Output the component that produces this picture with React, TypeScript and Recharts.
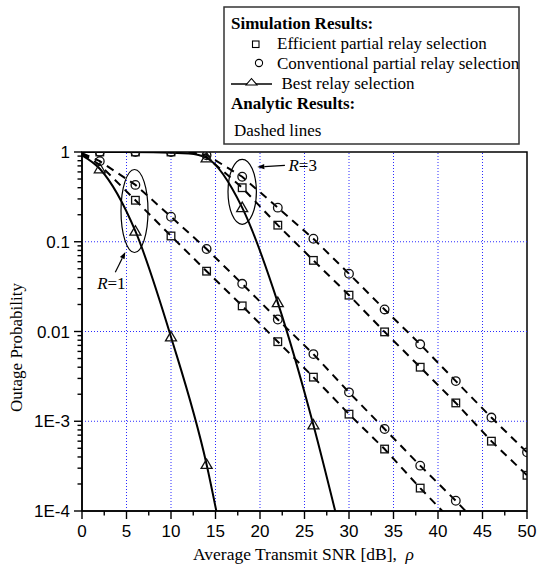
import React from 'react';
import {
  ComposedChart,
  Line,
  XAxis,
  YAxis,
  ReferenceLine,
  ReferenceArea,
  ReferenceDot,
} from 'recharts';

// ---------- axis ticks ----------
const xTicks = [0, 2.5, 5, 7.5, 10, 12.5, 15, 17.5, 20, 22.5, 25, 27.5, 30, 32.5, 35, 37.5, 40, 42.5, 45, 47.5, 50];
const yDecades = [0.0001, 0.001, 0.01, 0.1, 1];
const yDecadeLabels = ['1E-4', '1E-3', '0.01', '0.1', '1'];
const yMinor = [
  0.0002, 0.0003, 0.0004, 0.0005, 0.0006, 0.0007, 0.0008, 0.0009,
  0.002, 0.003, 0.004, 0.005, 0.006, 0.007, 0.008, 0.009,
  0.02, 0.03, 0.04, 0.05, 0.06, 0.07, 0.08, 0.09,
  0.2, 0.3, 0.4, 0.5, 0.6, 0.7, 0.8, 0.9,
];
const xGrid = [5, 10, 15, 20, 25, 30, 35, 40, 45];
const yGrid = [0.1, 0.01, 0.001];

// ---------- simulation results (markers) ----------
// R = 1
const effR1 = [
  { x: 6, y: 0.29 }, { x: 10, y: 0.116 }, { x: 14, y: 0.047 }, { x: 18, y: 0.0193 },
  { x: 22, y: 0.0077 }, { x: 26, y: 0.0031 }, { x: 30, y: 0.0012 }, { x: 34, y: 0.00049 },
  { x: 38, y: 0.00018 },
];
const convR1 = [
  { x: 2, y: 0.79 }, { x: 6, y: 0.43 }, { x: 10, y: 0.19 }, { x: 14, y: 0.083 },
  { x: 18, y: 0.034 }, { x: 22, y: 0.0136 }, { x: 26, y: 0.0056 }, { x: 30, y: 0.0021 },
  { x: 34, y: 0.00082 }, { x: 38, y: 0.00032 }, { x: 42, y: 0.00013 },
];
const bestR1 = [{ x: 2, y: 0.65 }, { x: 6, y: 0.131 }, { x: 10, y: 0.0087 }, { x: 14, y: 0.00033 }];
// R = 3
const effR3 = [
  { x: 2, y: 1 }, { x: 6, y: 1 }, { x: 10, y: 1 }, { x: 18, y: 0.4 }, { x: 22, y: 0.153 },
  { x: 26, y: 0.062 }, { x: 30, y: 0.0254 }, { x: 34, y: 0.0099 }, { x: 38, y: 0.004 },
  { x: 42, y: 0.0016 }, { x: 46, y: 0.0006 }, { x: 50, y: 0.00025 },
];
const convR3 = [
  { x: 2, y: 1 }, { x: 6, y: 1 }, { x: 10, y: 1 }, { x: 14, y: 0.92 }, { x: 18, y: 0.53 },
  { x: 22, y: 0.24 }, { x: 26, y: 0.108 }, { x: 30, y: 0.044 }, { x: 34, y: 0.0176 },
  { x: 38, y: 0.0072 }, { x: 42, y: 0.0028 }, { x: 46, y: 0.0011 }, { x: 50, y: 0.00045 },
];
const bestR3 = [{ x: 14, y: 0.86 }, { x: 18, y: 0.24 }, { x: 22, y: 0.021 }, { x: 26, y: 0.00091 }];

// ---------- solid curves (best relay selection) ----------
const bestR1Curve = [
  { x: 0, y: 0.92 }, { x: 2, y: 0.65 }, { x: 6, y: 0.131 }, { x: 10, y: 0.0087 },
  { x: 14, y: 0.00033 }, { x: 16, y: 0.000035 },
];
const bestR3Curve = [
  { x: 0, y: 1 }, { x: 8, y: 0.995 }, { x: 12, y: 0.96 }, { x: 14, y: 0.86 }, { x: 18, y: 0.24 },
  { x: 22, y: 0.021 }, { x: 26, y: 0.00091 }, { x: 29, y: 0.00006 },
];

// ---------- analytic results (dashed) ----------
const anaEffR1 = [
  { x: 0, y: 0.95 }, { x: 2, y: 0.72 }, { x: 6, y: 0.29 }, { x: 10, y: 0.116 }, { x: 14, y: 0.047 },
  { x: 18, y: 0.0193 }, { x: 22, y: 0.0077 }, { x: 26, y: 0.0031 }, { x: 30, y: 0.0012 },
  { x: 34, y: 0.00049 }, { x: 38, y: 0.00018 }, { x: 42, y: 0.00007 },
];
const anaConvR1 = [
  { x: 0, y: 0.97 }, { x: 2, y: 0.79 }, { x: 6, y: 0.43 }, { x: 10, y: 0.19 }, { x: 14, y: 0.083 },
  { x: 18, y: 0.034 }, { x: 22, y: 0.0136 }, { x: 26, y: 0.0056 }, { x: 30, y: 0.0021 },
  { x: 34, y: 0.00082 }, { x: 38, y: 0.00032 }, { x: 42, y: 0.00013 }, { x: 46, y: 0.00005 },
];
const anaEffR3 = [
  { x: 12, y: 1 }, { x: 14, y: 0.88 }, { x: 18, y: 0.4 }, { x: 22, y: 0.153 }, { x: 26, y: 0.062 },
  { x: 30, y: 0.0254 }, { x: 34, y: 0.0099 }, { x: 38, y: 0.004 }, { x: 42, y: 0.0016 },
  { x: 46, y: 0.0006 }, { x: 50, y: 0.00025 },
];
const anaConvR3 = [
  { x: 12, y: 1 }, { x: 14, y: 0.93 }, { x: 18, y: 0.53 }, { x: 22, y: 0.24 }, { x: 26, y: 0.108 },
  { x: 30, y: 0.044 }, { x: 34, y: 0.0176 }, { x: 38, y: 0.0072 }, { x: 42, y: 0.0028 },
  { x: 46, y: 0.0011 }, { x: 50, y: 0.00045 },
];

// ---------- annotations ----------
const ellipseR1 = { x: 5.9, y: 0.22 };
const ellipseR3 = { x: 18.0, y: 0.36 };
const arrowR1 = [{ x: 3.74, y: 0.0457 }, { x: 4.87, y: 0.077 }];
const arrowR3 = [{ x: 22.8, y: 0.71 }, { x: 19.7, y: 0.68 }];
const labelR1 = { x: 3.3, y: 0.03, text: '1' };
const labelR3 = { x: 23.2, y: 0.62, text: '3' };

const SANS = 'Liberation Sans, Arial, sans-serif';
const SERIF = 'Liberation Serif, Times New Roman, serif';
const INK = '#111';
const CLIP = 'url(#plotClipArea)';

const XTick = (p: any) => {
  const v = p.payload.value;
  const major = Math.abs(v % 5) < 1e-9;
  return (
    <g>
      <line x1={p.x} x2={p.x} y1={p.y} y2={p.y + (major ? 8 : 4.5)} stroke="#000" strokeWidth={1.4} />
      {major && (
        <text x={p.x} y={p.y + 26} textAnchor="middle" fontFamily={SANS} fontSize={17} fill="#000">
          {v}
        </text>
      )}
    </g>
  );
};

const YTick = (p: any) => {
  const v = p.payload.value;
  const lg = Math.log10(v);
  const major = Math.abs(lg - Math.round(lg)) < 1e-6;
  const idx = yDecades.findIndex((d) => Math.abs(Math.log10(d) - lg) < 1e-6);
  return (
    <g>
      <line x1={p.x} x2={p.x - (major ? 8 : 4.5)} y1={p.y} y2={p.y} stroke="#000" strokeWidth={1.4} />
      {major && (
        <text x={p.x - 12} y={p.y + 6} textAnchor="end" fontFamily={SANS} fontSize={17} fill="#000">
          {yDecadeLabels[idx]}
        </text>
      )}
    </g>
  );
};

const SquareDot = (p: any) => (
  <rect clipPath={CLIP} x={p.cx - 3.8} y={p.cy - 3.8} width={7.6} height={7.6} fill="none" stroke={INK} strokeWidth={1.3} />
);
const CircleDot = (p: any) => (
  <circle clipPath={CLIP} cx={p.cx} cy={p.cy} r={4.3} fill="none" stroke={INK} strokeWidth={1.3} />
);
const TriangleDot = (p: any) => (
  <polygon
    clipPath={CLIP}
    points={`${p.cx},${p.cy - 5.5} ${p.cx - 5.5},${p.cy + 4} ${p.cx + 5.5},${p.cy + 4}`}
    fill="none"
    stroke={INK}
    strokeWidth={1.3}
  />
);

const Arrow = (p: any) => {
  const { x1, y1, x2, y2 } = p;
  const dx = x2 - x1;
  const dy = y2 - y1;
  const len = Math.sqrt(dx * dx + dy * dy) || 1;
  const ux = dx / len;
  const uy = dy / len;
  const hl = 7;
  const hw = 2.6;
  const bx = x2 - ux * hl;
  const by = y2 - uy * hl;
  return (
    <g>
      <line x1={x1} y1={y1} x2={bx} y2={by} stroke="#000" strokeWidth={1.2} />
      <polygon
        points={`${x2},${y2} ${bx - uy * hw},${by + ux * hw} ${bx + uy * hw},${by - ux * hw}`}
        fill="#000"
      />
    </g>
  );
};

const makeEllipse = (rx: number, ry: number) => (p: any) => (
  <ellipse cx={p.cx} cy={p.cy} rx={rx} ry={ry} fill="none" stroke="#000" strokeWidth={1.2} />
);

const makeLabel = (num: string, anchor: string) => (p: any) => (
  <text x={p.cx} y={p.cy} textAnchor={anchor} fontFamily={SERIF} fontSize={17} fill="#000">
    <tspan fontStyle="italic">R</tspan>=
    {num}
  </text>
);

const FrameBox = (p: any) => (
  <g>
    <defs>
      <clipPath id="plotClipArea">
        <rect x={p.x} y={p.y} width={p.width} height={p.height} />
      </clipPath>
    </defs>
    <rect x={p.x} y={p.y} width={p.width} height={p.height} fill="none" stroke="#000" strokeWidth={1.5} />
  </g>
);

const Legend = () => (
  <svg
    width={537}
    height={150}
    style={{ position: 'absolute', left: 0, top: 0, pointerEvents: 'none' }}
  >
    <rect x={224} y={7} width={295} height={137} fill="#fff" stroke="#333" strokeWidth={1.5} />
    <text x={231} y={29} fontFamily={SERIF} fontSize={17} fontWeight="bold" fill="#000">
      Simulation Results:
    </text>
    <rect x={252.5} y={41} width={6.5} height={6.5} fill="none" stroke="#000" strokeWidth={1.1} />
    <text x={277} y={49} fontFamily={SERIF} fontSize={17} fill="#000">
      Efficient partial relay selection
    </text>
    <circle cx={259} cy={63} r={3.6} fill="none" stroke="#000" strokeWidth={1.1} />
    <text x={277} y={69} fontFamily={SERIF} fontSize={17} fill="#000">
      Conventional partial relay selection
    </text>
    <line x1={231} x2={272} y1={84} y2={84} stroke="#000" strokeWidth={1.6} />
    <polygon points="251.5,78.5 246,85 257,85" fill="#fff" stroke="#000" strokeWidth={1.1} />
    <text x={281.5} y={89} fontFamily={SERIF} fontSize={17} fill="#000">
      Best relay selection
    </text>
    <text x={231} y={109} fontFamily={SERIF} fontSize={17} fontWeight="bold" fill="#000">
      Analytic Results:
    </text>
    <text x={234} y={136} fontFamily={SERIF} fontSize={17} fill="#000">
      Dashed lines
    </text>
  </svg>
);

const dash = '8 6';

const markerLine = (data: any[], Dot: any) => (
  <Line
    data={data}
    dataKey="y"
    stroke="none"
    strokeWidth={0}
    dot={(p: any) => <Dot key={p.index} {...p} />}
    activeDot={false}
    isAnimationActive={false}
  />
);

export default function App() {
  return (
    <div style={{ position: 'absolute', left: 0, top: 0, width: 537, height: 572, background: '#fff' }}>
      <ComposedChart width={537} height={572} margin={{ top: 152, right: 10, bottom: 0, left: 0 }}>
        <XAxis
          type="number"
          dataKey="x"
          domain={[0, 50]}
          ticks={xTicks}
          interval={0}
          tick={<XTick />}
          tickLine={false}
          tickSize={0}
          tickMargin={0}
          height={61}
          axisLine={{ stroke: '#000', strokeWidth: 1.5 }}
          allowDataOverflow
          label={{
            value: 'Average Transmit SNR [dB],  ρ',
            position: 'insideBottom',
            offset: 0,
            content: (props: any) => {
              const vb = props.viewBox;
              return (
                <text x={vb.x + vb.width / 2 - 1} y={560} textAnchor="middle" fontFamily={SERIF} fontSize={17.5} fill="#000">
                  Average Transmit SNR [dB],{'\u00a0\u00a0'}
                  <tspan fontStyle="italic">ρ</tspan>
                </text>
              );
            },
          }}
        />
        <YAxis
          type="number"
          dataKey="y"
          scale="log"
          domain={[0.0001, 1]}
          ticks={[...yDecades, ...yMinor]}
          interval={0}
          tick={<YTick />}
          tickLine={false}
          tickSize={0}
          tickMargin={0}
          width={82}
          axisLine={{ stroke: '#000', strokeWidth: 1.5 }}
          allowDataOverflow
          label={{
            value: 'Outage Probability',
            content: (props: any) => {
              const vb = props.viewBox;
              const cy = vb.y + vb.height / 2 + 16;
              return (
                <text
                  x={22}
                  y={cy}
                  transform={`rotate(-90 22 ${cy})`}
                  textAnchor="middle"
                  fontFamily={SERIF}
                  fontSize={17}
                  fill="#000"
                >
                  Outage Probability
                </text>
              );
            },
          }}
        />

        {xGrid.map((v) => (
          <ReferenceLine key={'gx' + v} x={v} stroke="#2a2aff" strokeWidth={1} strokeDasharray="1 2" />
        ))}
        {yGrid.map((v) => (
          <ReferenceLine key={'gy' + v} y={v} stroke="#2a2aff" strokeWidth={1} strokeDasharray="1 2" />
        ))}

        <Line data={anaEffR1} dataKey="y" type="linear" stroke="#000" strokeWidth={2} strokeDasharray={dash} dot={false} activeDot={false} isAnimationActive={false} />
        <Line data={anaConvR1} dataKey="y" type="linear" stroke="#000" strokeWidth={2} strokeDasharray={dash} dot={false} activeDot={false} isAnimationActive={false} />
        <Line data={anaEffR3} dataKey="y" type="linear" stroke="#000" strokeWidth={2} strokeDasharray={dash} dot={false} activeDot={false} isAnimationActive={false} />
        <Line data={anaConvR3} dataKey="y" type="linear" stroke="#000" strokeWidth={2} strokeDasharray={dash} dot={false} activeDot={false} isAnimationActive={false} />
        <Line data={bestR1Curve} dataKey="y" type="monotone" stroke="#000" strokeWidth={2} dot={false} activeDot={false} isAnimationActive={false} />
        <Line data={bestR3Curve} dataKey="y" type="monotone" stroke="#000" strokeWidth={2} dot={false} activeDot={false} isAnimationActive={false} />

        {markerLine(effR1, SquareDot)}
        {markerLine(convR1, CircleDot)}
        {markerLine(bestR1, TriangleDot)}
        {markerLine(effR3, SquareDot)}
        {markerLine(convR3, CircleDot)}
        {markerLine(bestR3, TriangleDot)}

        <ReferenceDot x={ellipseR1.x} y={ellipseR1.y} r={1} shape={makeEllipse(13.5, 41.5)} />
        <ReferenceDot x={ellipseR3.x} y={ellipseR3.y} r={1} shape={makeEllipse(14.2, 32.5)} />
        <ReferenceLine segment={arrowR1} shape={Arrow} />
        <ReferenceLine segment={arrowR3} shape={Arrow} />
        <ReferenceDot x={labelR1.x} y={labelR1.y} r={1} shape={makeLabel(labelR1.text, 'middle')} />
        <ReferenceDot x={labelR3.x} y={labelR3.y} r={1} shape={makeLabel(labelR3.text, 'start')} />

        <ReferenceArea x1={0} x2={50} y1={0.0001} y2={1} shape={FrameBox} />
      </ComposedChart>
      <Legend />
    </div>
  );
}
